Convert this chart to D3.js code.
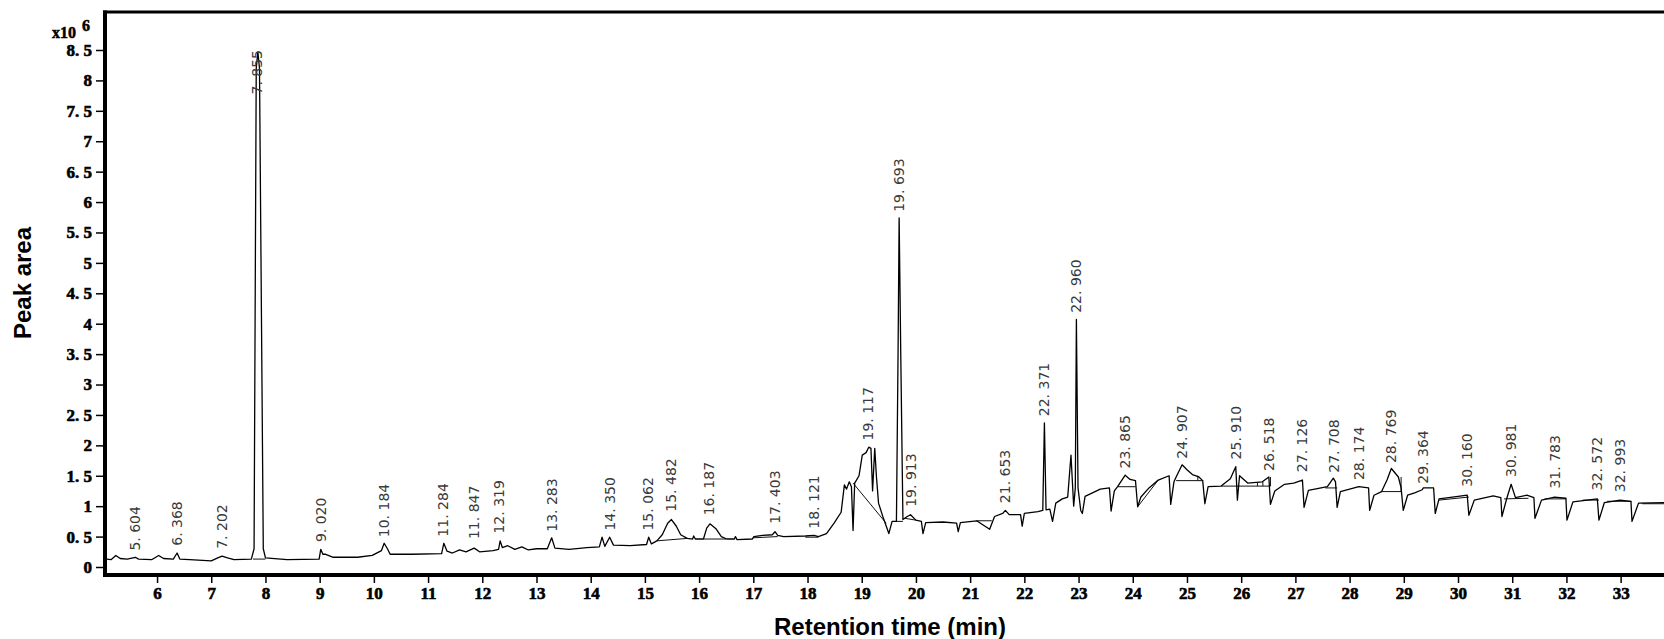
<!DOCTYPE html>
<html>
<head>
<meta charset="utf-8">
<script src="https://cdn.jsdelivr.net/npm/d3@7"></script>
<style>
  html, body { margin: 0; padding: 0; background: #fff; }
  svg { display: block; }
  .tick text {
    font-family: "Liberation Serif", "Times New Roman", serif;
    font-weight: bold;
    font-size: 17px;
    fill: #000;
    stroke: #000;
    stroke-width: 0.6px;
  }
  .tick line { stroke: #000; stroke-width: 1.5px; }
  .peak-label { font-family: "DejaVu Sans", sans-serif; font-size: 14px; fill: #3a3a3a; }
  .axis-title { font-family: "Liberation Sans", Arial, sans-serif; font-weight: bold; font-size: 24px; fill: #000; }
</style>
</head>
<body>
<svg id="chart" width="1664" height="639"></svg>
<script>
// chromatogram trace: [retention time (min), peak area (x10^6)]
const trace = [
  [5.06,0.13],[5.15,0.12],[5.24,0.19],[5.32,0.14],[5.45,0.13],[5.6,0.16],[5.66,0.13],[5.9,0.12],
  [6.03,0.19],[6.12,0.14],[6.3,0.13],[6.37,0.23],[6.42,0.13],[6.6,0.12],[7.0,0.1],[7.12,0.15],
  [7.2,0.18],[7.3,0.15],[7.42,0.12],[7.74,0.13],[7.79,0.3],[7.83,8.2],[7.86,8.47],[7.89,8.2],
  [7.96,0.3],[8.0,0.15],[8.4,0.12],[8.99,0.13],[9.02,0.29],[9.06,0.21],[9.1,0.21],[9.25,0.16],
  [9.7,0.16],[9.97,0.19],[10.14,0.27],[10.19,0.39],[10.25,0.3],[10.3,0.21],[10.7,0.21],[11.25,0.22],
  [11.29,0.39],[11.35,0.26],[11.45,0.23],[11.58,0.28],[11.7,0.25],[11.85,0.31],[11.95,0.25],[12.2,0.27],
  [12.3,0.29],[12.33,0.43],[12.37,0.32],[12.47,0.35],[12.6,0.29],[12.73,0.33],[12.85,0.28],[13.0,0.3],
  [13.2,0.3],[13.28,0.48],[13.34,0.31],[13.6,0.29],[13.93,0.32],[14.16,0.33],[14.21,0.49],[14.26,0.34],
  [14.35,0.49],[14.42,0.36],[14.73,0.35],[15.03,0.37],[15.07,0.49],[15.12,0.38],[15.22,0.43],[15.32,0.53],
  [15.42,0.72],[15.49,0.78],[15.58,0.67],[15.66,0.53],[15.78,0.47],[15.88,0.46],[15.9,0.51],[15.93,0.46],
  [16.08,0.46],[16.14,0.64],[16.2,0.71],[16.31,0.63],[16.41,0.5],[16.51,0.46],[16.65,0.46],[16.67,0.5],
  [16.7,0.45],[16.98,0.46],[17.01,0.5],[17.17,0.52],[17.35,0.53],[17.4,0.58],[17.45,0.52],[17.56,0.5],
  [17.96,0.51],[18.12,0.52],[18.2,0.5],[18.35,0.55],[18.49,0.72],[18.62,0.9],[18.68,1.35],[18.72,1.28],
  [18.77,1.4],[18.81,1.32],[18.84,0.6],[18.87,1.38],[18.95,1.5],[19.01,1.84],[19.08,1.88],[19.13,1.97],
  [19.17,1.95],[19.2,1.25],[19.24,1.95],[19.27,1.5],[19.31,1.05],[19.4,0.8],[19.5,0.55],[19.56,0.75],
  [19.64,0.75],[19.67,3.5],[19.69,5.74],[19.72,3.5],[19.76,0.78],[19.84,0.83],[19.9,0.86],[20.0,0.77],
  [20.1,0.75],[20.13,0.55],[20.18,0.73],[20.5,0.74],[20.75,0.72],[20.78,0.58],[20.82,0.73],[21.12,0.76],
  [21.36,0.62],[21.45,0.83],[21.6,0.88],[21.65,0.93],[21.72,0.86],[21.93,0.86],[21.96,0.67],[22.0,0.88],
  [22.25,0.91],[22.34,0.93],[22.37,2.37],[22.4,0.94],[22.47,0.95],[22.52,0.75],[22.58,1.05],[22.7,1.12],
  [22.8,1.15],[22.86,1.84],[22.91,1.0],[22.94,1.3],[22.96,4.07],[22.99,1.3],[23.04,0.93],[23.07,0.88],
  [23.12,1.16],[23.4,1.28],[23.57,1.3],[23.6,0.92],[23.66,1.25],[23.72,1.32],[23.86,1.51],[23.95,1.44],
  [24.05,1.42],[24.09,0.99],[24.15,1.15],[24.3,1.3],[24.47,1.43],[24.67,1.5],[24.7,1.03],[24.76,1.4],
  [24.8,1.48],[24.91,1.68],[25.0,1.6],[25.1,1.52],[25.22,1.48],[25.29,1.42],[25.33,1.04],[25.39,1.32],
  [25.63,1.33],[25.8,1.45],[25.9,1.65],[25.93,1.1],[25.97,1.5],[26.12,1.38],[26.39,1.4],[26.51,1.48],
  [26.54,1.03],[26.62,1.25],[26.8,1.36],[26.97,1.38],[27.13,1.43],[27.16,0.98],[27.24,1.26],[27.59,1.32],
  [27.7,1.46],[27.74,1.4],[27.77,0.98],[27.83,1.24],[28.0,1.28],[28.17,1.32],[28.35,1.3],[28.37,0.93],
  [28.45,1.18],[28.59,1.24],[28.69,1.43],[28.77,1.62],[28.9,1.48],[28.95,1.3],[28.99,0.93],[29.07,1.18],
  [29.2,1.22],[29.34,1.27],[29.36,1.3],[29.55,1.3],[29.58,0.88],[29.65,1.12],[30.0,1.16],[30.17,1.18],
  [30.2,0.85],[30.3,1.1],[30.65,1.17],[30.79,1.14],[30.81,0.83],[30.9,1.13],[30.98,1.36],[31.06,1.14],
  [31.27,1.18],[31.4,1.14],[31.42,0.8],[31.54,1.1],[31.78,1.15],[31.99,1.13],[32.01,0.77],[32.12,1.07],
  [32.57,1.12],[32.6,0.77],[32.7,1.06],[32.99,1.1],[33.19,1.08],[33.21,0.75],[33.33,1.05],[33.8,1.06]
];

// integration baselines drawn under peaks: [t1, v1, t2, v2]
const baselines = [
  [7.77,0.13,8.0,0.13],[15.22,0.43,15.78,0.47],[16.08,0.46,16.5,0.46],[17.0,0.48,17.45,0.5],
  [17.96,0.49,18.2,0.49],[18.84,1.38,19.45,0.72],[19.64,0.75,19.76,0.75],[19.8,0.8,20.0,0.77],
  [21.12,0.76,21.4,0.76],[23.72,1.32,24.05,1.32],[24.09,0.99,24.47,1.43],[24.8,1.42,25.3,1.42],
  [25.2,1.42,25.2,1.5],[25.63,1.33,26.54,1.33],[26.3,1.33,26.3,1.39],[26.4,1.33,26.4,1.4],
  [26.54,1.33,26.54,1.48],[27.55,1.3,27.77,1.3],[28.59,1.24,28.95,1.24],[28.95,1.24,28.95,1.48],
  [29.65,1.1,30.2,1.15],[30.85,1.12,31.3,1.13],[31.6,1.12,32.0,1.12],[32.3,1.1,32.6,1.1],
  [32.75,1.08,33.2,1.08],[33.4,1.04,33.8,1.04]
];

// peak labels and the height each label stands on
const peakTimes = [5.604,6.368,7.202,7.855,9.020,10.184,11.284,11.847,12.319,13.283,14.350,15.062,
  15.482,16.187,17.403,18.121,19.117,19.693,19.913,21.653,22.371,22.960,23.865,24.907,25.910,26.518,
  27.126,27.708,28.174,28.769,29.364,30.160,30.981,31.783,32.572,32.993];
const peakNames = ['5. 604','6. 368','7. 202','7. 855','9. 020','10. 184','11. 284','11. 847','12. 319',
  '13. 283','14. 350','15. 062','15. 482','16. 187','17. 403','18. 121','19. 117','19. 693','19. 913',
  '21. 653','22. 371','22. 960','23. 865','24. 907','25. 910','26. 518','27. 126','27. 708','28. 174',
  '28. 769','29. 364','30. 160','30. 981','31. 783','32. 572','32. 993'];
const peakTops = [0.22,0.3,0.25,8.47,0.36,0.44,0.45,0.41,0.5,0.53,0.55,0.55,0.86,0.8,0.66,0.58,2.03,
  5.79,0.94,1.0,2.43,4.13,1.57,1.73,1.72,1.53,1.51,1.5,1.38,1.66,1.32,1.27,1.43,1.24,1.21,1.18];

const xTicks = d3.range(6, 34);
const yTicks = d3.range(0, 8.51, 0.5);

const W = 1664, H = 639;
const mLeft = 105, mTop = 12, mBottom = 575;

const svg = d3.select('#chart');
const x = d3.scaleLinear().domain([5.04, 33.8]).range([mLeft, W]);
const y = d3.scaleLinear().domain([0, 8.5]).range([567, 50]);

svg.append('defs').append('clipPath').attr('id', 'plot')
  .append('rect').attr('x', mLeft + 2).attr('y', mTop + 2).attr('width', W - mLeft).attr('height', mBottom - mTop - 4);

const plot = svg.append('g').attr('clip-path', 'url(#plot)');

plot.selectAll('line.base')
  .data(baselines)
  .enter().append('line')
  .attr('class', 'base')
  .attr('x1', (d) => x(d[0])).attr('y1', (d) => y(d[1]))
  .attr('x2', (d) => x(d[2])).attr('y2', (d) => y(d[3]))
  .attr('stroke', '#111').attr('stroke-width', 1);

const line = d3.line().x((d) => x(d[0])).y((d) => y(d[1]));
plot.append('path')
  .datum(trace)
  .attr('d', line)
  .attr('fill', 'none')
  .attr('stroke', '#000')
  .attr('stroke-width', 1.3)
  .attr('stroke-linejoin', 'round');

// peak labels, rotated, reading upward from just above the apex
const labels = svg.append('g');
peakTimes.forEach((t, i) => {
  const txt = labels.append('text')
    .attr('class', 'peak-label')
    .attr('dy', '0.35em')
    .text(peakNames[i]);
  const len = txt.node().getComputedTextLength();
  let yy = y(peakTops[i]) - 3;
  let anchor = 'start';
  if (yy - len < 48) {
    yy = 50;
    anchor = 'end';
  }
  txt.attr('text-anchor', anchor)
    .attr('transform', `translate(${x(t)},${yy}) rotate(-90)`);
});

// axes
svg.append('g')
  .attr('transform', `translate(0,${mBottom})`)
  .call(d3.axisBottom(x).tickValues(xTicks).tickSize(8).tickPadding(4).tickFormat(d3.format('d')))
  .call((g) => g.select('.domain').remove());

svg.append('g')
  .attr('transform', `translate(${mLeft - 2},0)`)
  .call(d3.axisLeft(y).tickValues(yTicks).tickSize(7).tickPadding(4)
    .tickFormat((d) => (Number.isInteger(d) ? String(d) : String(d).replace('.', '. '))))
  .call((g) => g.select('.domain').remove());

// frame: thick left and bottom, top border, open on the right
svg.append('line').attr('x1', mLeft).attr('x2', mLeft).attr('y1', mTop - 1.5).attr('y2', mBottom + 2)
  .attr('stroke', '#000').attr('stroke-width', 4);
svg.append('line').attr('x1', mLeft - 2).attr('x2', W).attr('y1', mBottom).attr('y2', mBottom)
  .attr('stroke', '#000').attr('stroke-width', 4);
svg.append('line').attr('x1', mLeft - 2).attr('x2', W).attr('y1', mTop).attr('y2', mTop)
  .attr('stroke', '#000').attr('stroke-width', 3);

// exponent
const expo = svg.append('text')
  .attr('x', 52).attr('y', 38)
  .style('font-family', '"Liberation Serif", serif').style('font-weight', 'bold')
  .style('font-size', '16px').style('stroke', '#000').style('stroke-width', '0.5px');
expo.append('tspan').text('x10');
expo.append('tspan').attr('dx', 6).attr('dy', -7).text('6');

svg.append('text')
  .attr('class', 'axis-title')
  .attr('text-anchor', 'middle')
  .attr('transform', 'translate(31,283) rotate(-90)')
  .text('Peak area');

svg.append('text')
  .attr('class', 'axis-title')
  .attr('text-anchor', 'middle')
  .attr('x', 890).attr('y', 635)
  .text('Retention time (min)');
</script>
</body>
</html>
